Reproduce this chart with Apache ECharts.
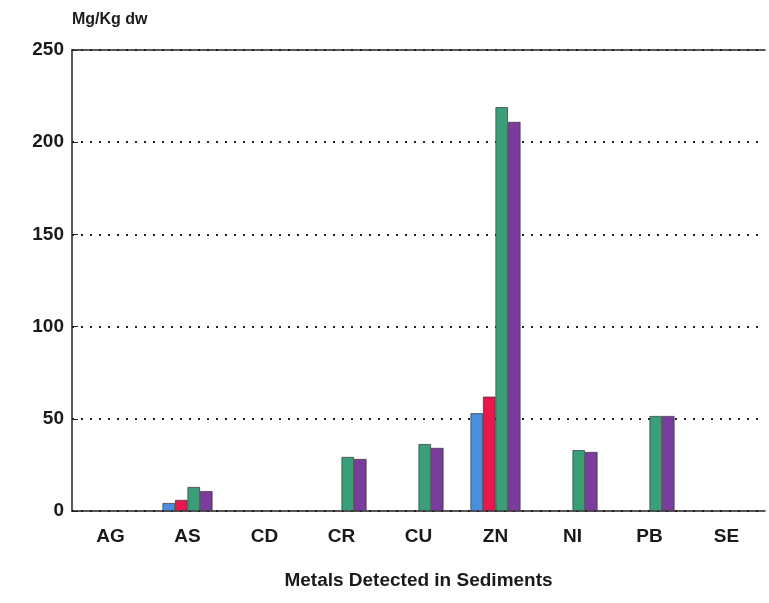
<!DOCTYPE html>
<html>
<head>
<meta charset="utf-8">
<script src="https://cdn.jsdelivr.net/npm/echarts@6/dist/echarts.min.js"></script>
<style>html,body{margin:0;padding:0;background:#fff;}#c{width:769px;height:603px;}</style>
</head>
<body>
<div id="c"></div>
<script>
const categories = ['AG','AS','CD','CR','CU','ZN','NI','PB','SE'];
const seriesBlue   = ['-', 4.3, '-', '-', '-', 53, '-', '-', '-'];
const seriesRed    = ['-', 6, '-', '-', '-', 62, '-', '-', '-'];
const seriesGreen  = ['-', 13, '-', 29.3, 36.3, 219, 33, 51.5, '-'];
const seriesPurple = ['-', 10.8, '-', 28.2, 34.2, 211, 32, 51.5, '-'];
const yTicks = [0, 50, 100, 150, 200, 250];

const font = {fontFamily: 'Liberation Sans, Arial, sans-serif', fontWeight: 'bold', color: '#1a1a1a'};
const chart = echarts.init(document.getElementById('c'));
function mk(name, data, color){
  return {name, type:'bar', data, barWidth:12.5, barGap:'0%',
    itemStyle:{color, borderColor:'#333', borderWidth:0.7}};
}
chart.setOption({
  animation:false,
  grid:{left:72, right:4, top:50, bottom:92},
  xAxis:[{
    type:'category', data:categories,
    axisLine:{lineStyle:{color:'#222', width:1.5}},
    axisTick:{show:false},
    axisLabel:Object.assign({fontSize:19, margin:16}, font),
    name:'Metals Detected in Sediments', nameLocation:'middle', nameGap:60,
    nameTextStyle:Object.assign({fontSize:19}, font)
  },{
    type:'category', position:'top', data:categories,
    axisLine:{lineStyle:{color:'#222', width:1.5}},
    axisTick:{show:false}, axisLabel:{show:false}
  }],
  yAxis:{
    type:'value', min:yTicks[0], max:yTicks[yTicks.length-1], interval:50,
    axisLine:{show:true, lineStyle:{color:'#222', width:1.5}},
    axisTick:{show:true, inside:true, length:6, lineStyle:{color:'#222'}},
    axisLabel:Object.assign({fontSize:19, margin:8}, font),
    splitLine:{show:true, lineStyle:{color:'#222', type:[2,7], width:2}},
    name:'Mg/Kg dw', nameLocation:'end', nameGap:22,
    nameTextStyle:Object.assign({fontSize:16, align:'left'}, font)
  },
  series:[
    mk('A', seriesBlue, '#4a8fdc'),
    mk('B', seriesRed, '#e8164c'),
    mk('C', seriesGreen, '#3a9e78'),
    mk('D', seriesPurple, '#7a3d9e')
  ]
});
</script>
</body>
</html>
